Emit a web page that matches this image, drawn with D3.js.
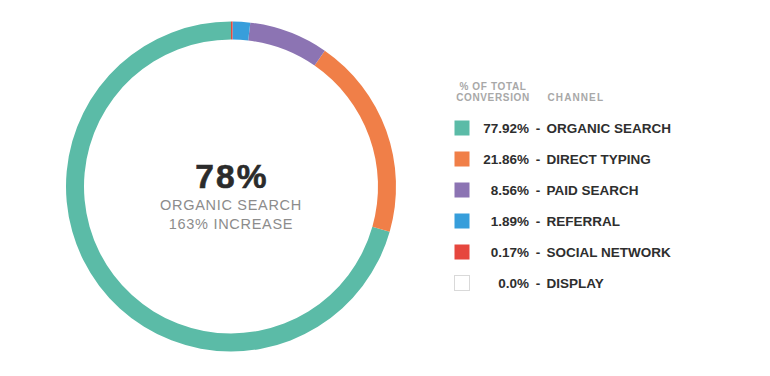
<!DOCTYPE html>
<html><head><meta charset="utf-8">
<script src="https://cdn.jsdelivr.net/npm/d3@7"></script>
<style>
html,body{margin:0;padding:0;background:#fff;}
text{font-family:"Liberation Sans",Arial,sans-serif;}
</style></head>
<body><svg id="chart" width="770" height="376"></svg>
<script>
const channels = ["ORGANIC SEARCH","DIRECT TYPING","PAID SEARCH","REFERRAL","SOCIAL NETWORK","DISPLAY"];
const values = [77.92, 21.86, 8.56, 1.89, 0.17, 0.0];
const valueLabels = ["77.92%","21.86%","8.56%","1.89%","0.17%","0.0%"];
const colors = ["#5bbba7","#f07f48","#8c74b3","#379edb","#e6473e","#ffffff"];
const centerBig = "78%";
const centerLines = ["ORGANIC SEARCH","163% INCREASE"];
const headerLeft = ["% OF TOTAL","CONVERSION"];
const headerRight = "CHANNEL";

const svg = d3.select("#chart");
const cx = 231, cy = 186.5, rOuter = 165, rInner = 147;

const pie = d3.pie().sort(null).value(d => d).startAngle(2*Math.PI).endAngle(0);
const arc = d3.arc().innerRadius(rInner).outerRadius(rOuter);
const g = svg.append("g").attr("transform", `translate(${cx},${cy})`);
g.selectAll("path").data(pie(values)).join("path")
  .attr("d", arc).attr("fill", (d,i) => colors[i]);

g.append("text").attr("text-anchor","middle").attr("x",1).attr("y",1.5)
  .attr("font-size", 33.5).attr("font-weight", 700).attr("letter-spacing",2.2)
  .attr("stroke","#2b2b2b").attr("stroke-width",0.6).attr("fill","#2b2b2b").text(centerBig);
g.selectAll("text.sub").data(centerLines).join("text").attr("class","sub")
  .attr("text-anchor","middle").attr("y",(d,i)=>23+i*19.7)
  .attr("font-size",14.5).attr("letter-spacing",0.7).attr("fill","#8c8c8c").text(d=>d);

const lg = svg.append("g");
lg.selectAll("text.hl").data(headerLeft).join("text").attr("class","hl")
  .attr("x",493).attr("y",(d,i)=>90.3+i*11).attr("text-anchor","middle")
  .attr("font-size",10).attr("font-weight",700).attr("fill","#a8a8a8").attr("letter-spacing",0.65).text(d=>d);
lg.append("text").attr("x",547.5).attr("y",101.3).attr("font-size",10).attr("font-weight",700)
  .attr("letter-spacing",1.1).attr("fill","#a8a8a8").text(headerRight);

const y = d3.scaleBand().domain(channels).range([120, 120+31*6]).paddingInner(0);
const rows = lg.selectAll("g.row").data(channels).join("g").attr("class","row")
  .attr("transform", d => `translate(0,${y(d)})`);
rows.append("rect").attr("x",454.5).attr("y",0.5).attr("width",15).attr("height",15)
  .attr("fill",(d,i)=>colors[i]).attr("stroke",(d,i)=>i===5?"#d9d9d9":"none").attr("stroke-width",1);
rows.append("text").attr("x",529).attr("y",13).attr("text-anchor","end")
  .attr("font-size",13.5).attr("font-weight",700).attr("fill","#2e2e2e").text((d,i)=>valueLabels[i]);
rows.append("text").attr("x",538).attr("y",13).attr("text-anchor","middle")
  .attr("font-size",13.5).attr("font-weight",700).attr("fill","#2e2e2e").text("-");
rows.append("text").attr("x",546.5).attr("y",13)
  .attr("font-size",13.5).attr("font-weight",700).attr("fill","#2e2e2e").text(d=>d);
</script></body></html>
